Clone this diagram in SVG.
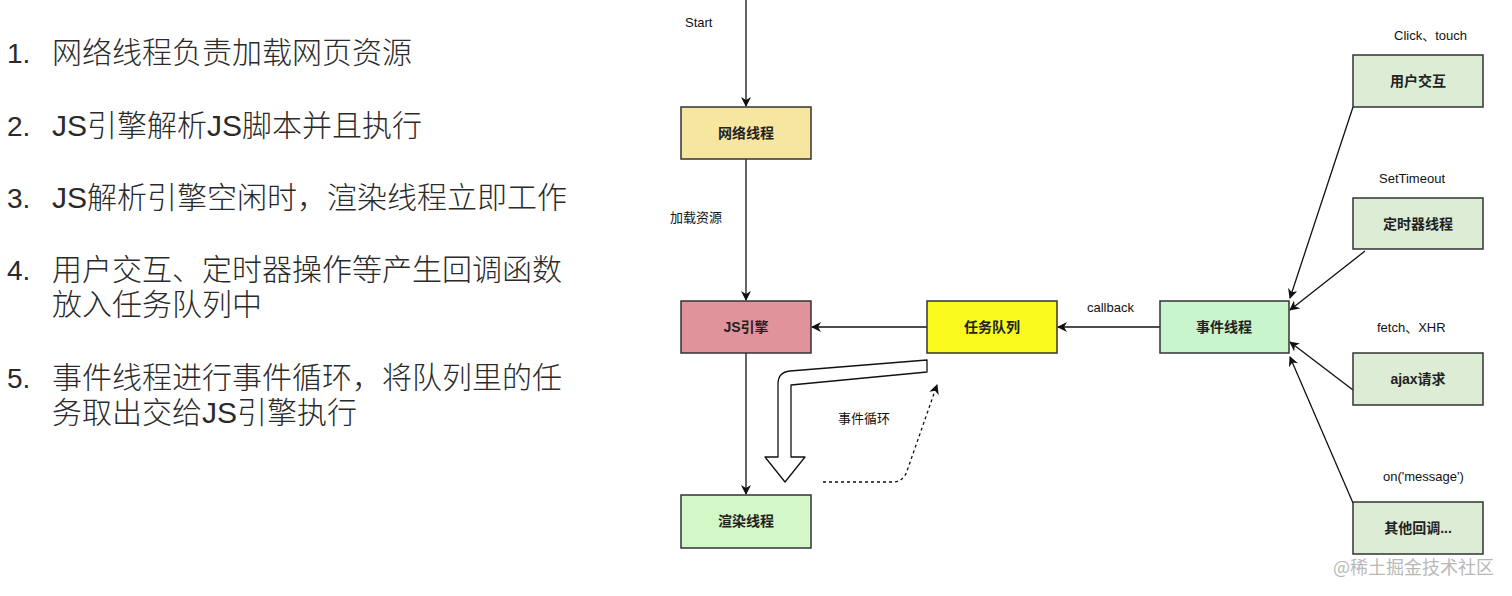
<svg xmlns="http://www.w3.org/2000/svg" width="1512" height="596" viewBox="0 0 1512 596">
<style>
.list{font-family:"Liberation Sans","Noto Sans CJK SC",sans-serif;font-size:30px;font-weight:300;fill:#2a2a2a}
.num{font-family:"Liberation Sans",sans-serif;font-size:28px;fill:#2a2a2a}
.node{stroke:#333;stroke-width:1.5}
.nl{font-family:"Liberation Sans","Noto Sans CJK SC",sans-serif;font-size:14px;font-weight:bold;fill:#222;text-anchor:middle}
.lab{font-family:"Liberation Sans","Noto Sans CJK SC",sans-serif;font-size:13px;fill:#111}
.edge{stroke:#111;stroke-width:1.3;fill:none}
</style>
<defs>
<marker id="ah" viewBox="0 0 10 10" refX="9" refY="5" markerWidth="10" markerHeight="10" markerUnits="userSpaceOnUse" orient="auto">
<path d="M0,0 L10,5 L0,10 L3,5 Z" fill="#111"/>
</marker>
</defs>
<rect width="1512" height="596" fill="#fff"/>

<g id="list">
<text class="num" x="7" y="63">1.</text><text class="list" x="52" y="63">网络线程负责加载网页资源</text>
<text class="num" x="7" y="136">2.</text><text class="list" x="52" y="136">JS引擎解析JS脚本并且执行</text>
<text class="num" x="7" y="208">3.</text><text class="list" x="52" y="208">JS解析引擎空闲时，渲染线程立即工作</text>
<text class="num" x="7" y="280">4.</text><text class="list" x="52" y="280">用户交互、定时器操作等产生回调函数</text>
<text class="list" x="52" y="315">放入任务队列中</text>
<text class="num" x="7" y="388">5.</text><text class="list" x="52" y="388">事件线程进行事件循环，将队列里的任</text>
<text class="list" x="52" y="423">务取出交给JS引擎执行</text>
</g>

<g id="connectors">
<line class="edge" x1="746" y1="0" x2="746" y2="106" marker-end="url(#ah)"/>
<line class="edge" x1="746" y1="159" x2="746" y2="300" marker-end="url(#ah)"/>
<line class="edge" x1="746" y1="353" x2="746" y2="494" marker-end="url(#ah)"/>
<line class="edge" x1="927" y1="327" x2="812" y2="327" marker-end="url(#ah)"/>
<line class="edge" x1="1160" y1="327" x2="1058" y2="327" marker-end="url(#ah)"/>
<line class="edge" x1="1353" y1="107" x2="1290" y2="298" marker-end="url(#ah)"/>
<line class="edge" x1="1365" y1="251" x2="1290" y2="310" marker-end="url(#ah)"/>
<line class="edge" x1="1353" y1="390" x2="1290" y2="342" marker-end="url(#ah)"/>
<line class="edge" x1="1353" y1="503" x2="1290" y2="357" marker-end="url(#ah)"/>
<path class="edge" d="M823 482 L894 482 Q904 481 907 471 L937 385" stroke-dasharray="3 3" marker-end="url(#ah)"/>
<path d="M927 360 L790 371 Q778 372 778 384 L778 457 L765 457 L785 482 L805 457 L791 457 L791 385 L927 372 Z" fill="#fff" stroke="#111" stroke-width="1.3" stroke-linejoin="round"/>
</g>

<g id="edge-labels">
<text class="lab" x="685" y="27">Start</text>
<text class="lab" x="670" y="222">加载资源</text>
<text class="lab" x="1087" y="312">callback</text>
<text class="lab" x="838" y="423">事件循环</text>
<text class="lab" x="1394" y="40">Click、touch</text>
<text class="lab" x="1379" y="183">SetTimeout</text>
<text class="lab" x="1377" y="332">fetch、XHR</text>
<text class="lab" x="1383" y="481">on('message')</text>
</g>

<g id="n-network"><rect class="node" x="681" y="107" width="130" height="52" fill="#f7e6a0"/><text class="nl" x="746" y="138">网络线程</text></g>
<g id="n-js"><rect class="node" x="681" y="301" width="130" height="52" fill="#e0939b"/><text class="nl" x="746" y="332">JS引擎</text></g>
<g id="n-render"><rect class="node" x="681" y="495" width="130" height="53" fill="#d4f7c8"/><text class="nl" x="746" y="526">渲染线程</text></g>
<g id="n-queue"><rect class="node" x="927" y="301" width="130" height="52" fill="#fafa1e"/><text class="nl" x="992" y="332">任务队列</text></g>
<g id="n-event"><rect class="node" x="1160" y="301" width="129" height="52" fill="#c8f5cc"/><text class="nl" x="1224" y="332">事件线程</text></g>
<g id="n-user"><rect class="node" x="1353" y="55" width="130" height="52" fill="#dcecd5"/><text class="nl" x="1418" y="86">用户交互</text></g>
<g id="n-timer"><rect class="node" x="1353" y="198" width="130" height="51" fill="#dcecd5"/><text class="nl" x="1418" y="229">定时器线程</text></g>
<g id="n-ajax"><rect class="node" x="1353" y="353" width="130" height="52" fill="#dcecd5"/><text class="nl" x="1418" y="384">ajax请求</text></g>
<g id="n-other"><rect class="node" x="1353" y="502" width="130" height="52" fill="#dcecd5"/><text class="nl" x="1418" y="533">其他回调...</text></g>

<text x="1333" y="574" font-family="Noto Sans CJK SC,sans-serif" font-size="18" fill="#b8b8b8">@稀土掘金技术社区</text>
</svg>
